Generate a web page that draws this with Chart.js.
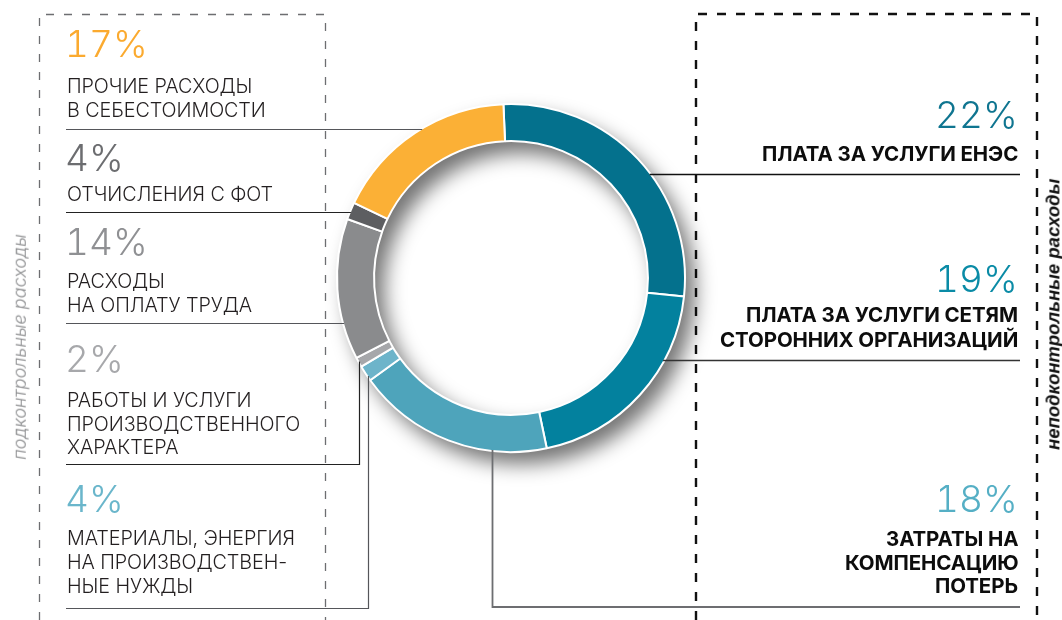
<!DOCTYPE html>
<html lang="ru">
<head>
<meta charset="utf-8">
<script src="https://cdn.jsdelivr.net/npm/chart.js@4.4.1/dist/chart.umd.min.js"></script>
<style>
  html, body { margin:0; padding:0; background:#fff; }
  body { width:1062px; height:620px; position:relative; overflow:hidden; }
  #c { position:absolute; left:0; top:0; }
  .t { position:absolute; white-space:nowrap; line-height:1; }
</style>
</head>
<body>
<canvas id="c" width="1062" height="620"></canvas>
<script>
// ---- data (clockwise from the top of the ring) ----
const categories = [
  'Плата за услуги ЕНЭС',
  'Плата за услуги сетям сторонних организаций',
  'Затраты на компенсацию потерь',
  'Материалы, энергия на производственные нужды',
  'Работы и услуги производственного характера',
  'Расходы на оплату труда',
  'Отчисления с ФОТ',
  'Прочие расходы в себестоимости'
];
const percentLabels = ['22%', '19%', '18%', '4%', '2%', '14%', '4%', '17%'];
// arc sizes as drawn in the picture (share of the full ring, %)
const sliceShares = [27.4, 20.0, 18.3, 1.5, 0.9, 13.1, 1.6, 17.2];
const sliceColors = ['#04718D', '#03819E', '#4EA4BB', '#6DB4CA', '#A6A7AA', '#8A8B8D', '#5D5E61', '#FBB036'];
const percentColors = ['#0F7590', '#0A8BA6', '#55AFC5', '#6AB6CB', '#A7A8AB', '#8F9093', '#6C6D70', '#FBAA2F'];
const labelLines = [
  ['ПЛАТА ЗА УСЛУГИ ЕНЭС'],
  ['ПЛАТА ЗА УСЛУГИ СЕТЯМ', 'СТОРОННИХ ОРГАНИЗАЦИЙ'],
  ['ЗАТРАТЫ НА', 'КОМПЕНСАЦИЮ', 'ПОТЕРЬ'],
  ['МАТЕРИАЛЫ, ЭНЕРГИЯ', 'НА ПРОИЗВОДСТВЕН-', 'НЫЕ НУЖДЫ'],
  ['РАБОТЫ И УСЛУГИ', 'ПРОИЗВОДСТВЕННОГО', 'ХАРАКТЕРА'],
  ['РАСХОДЫ', 'НА ОПЛАТУ ТРУДА'],
  ['ОТЧИСЛЕНИЯ С ФОТ'],
  ['ПРОЧИЕ РАСХОДЫ', 'В СЕБЕСТОИМОСТИ']
];
const groupTitles = ['подконтрольные расходы', 'неподконтрольные расходы'];

// ---- layout (positions only) ----
const pctFont = 'font-family:Inter,"Noto Sans",sans-serif;font-weight:300;font-size:37px;font-variant-numeric:tabular-nums;';
const leftFont = 'font-family:Inter,"Noto Sans",sans-serif;font-weight:350;font-size:19.8px;color:#231F20;letter-spacing:-0.1px;';
const rightFont = 'font-family:Inter,"Liberation Sans",sans-serif;font-weight:750;font-size:20.5px;color:#0d0d0d;letter-spacing:-0.1px;';
// index -> [side, pctBaseline, firstLineBaseline, lineStep]
const blocks = {
  7: ['L', 57, 93, 24],
  6: ['L', 171, 201, 24],
  5: ['L', 255, 288, 24],
  4: ['L', 372, 407, 23.5],
  3: ['L', 512, 545, 24],
  0: ['R', 128, 161, 25],
  1: ['R', 292, 322, 25],
  2: ['R', 512, 546, 23.5]
};

function place(text, x, baseline, style, align) {
  const d = document.createElement('div');
  d.className = 't';
  d.style.cssText += style;
  d.appendChild(document.createTextNode(text));
  const m = document.createElement('span');
  m.style.cssText = 'display:inline-block;width:0;height:0;vertical-align:baseline;';
  d.appendChild(m);
  document.body.appendChild(d);
  const b = m.offsetTop;
  d.style.top = (baseline - b) + 'px';
  d.style.left = (align === 'right' ? x - d.offsetWidth : x) + 'px';
  return d;
}

Object.keys(blocks).forEach(k => {
  const i = +k;
  const [side, pb, lb, step] = blocks[k];
  if (side === 'L') {
    place(percentLabels[i], 65, pb, pctFont + 'color:' + percentColors[i] + ';', 'left');
    labelLines[i].forEach((ln, j) => place(ln, 67, lb + j * step, leftFont, 'left'));
  } else {
    place(percentLabels[i], 1018, pb, pctFont + 'color:' + percentColors[i] + ';', 'right');
    labelLines[i].forEach((ln, j) => place(ln, 1018, lb + j * step, rightFont, 'right'));
  }
});

// rotated group titles
function vtitle(text, cx, cy, style) {
  const d = document.createElement('div');
  d.className = 't';
  d.style.cssText += style;
  d.textContent = text;
  document.body.appendChild(d);
  const w = d.offsetWidth, h = d.offsetHeight;
  d.style.left = (cx - w / 2) + 'px';
  d.style.top = (cy - h / 2) + 'px';
  d.style.transform = 'rotate(-90deg)';
}
vtitle(groupTitles[0], 19, 347, 'font-family:Inter,"Noto Sans",sans-serif;font-style:italic;font-weight:300;font-size:18px;color:#8A8B8D;');
vtitle(groupTitles[1], 1053, 314, 'font-family:"Liberation Sans",Arial,sans-serif;font-style:italic;font-weight:700;font-size:18.5px;color:#111;');

// ---- plugins ----
const decor = {
  id: 'decor',
  beforeDraw(chart) {
    const ctx = chart.ctx;
    ctx.save();
    // left dashed frame
    ctx.strokeStyle = '#6D6E71'; ctx.lineWidth = 1.3; ctx.setLineDash([8, 10]);
    ctx.beginPath(); ctx.moveTo(39.5, 620); ctx.lineTo(39.5, 14.5); ctx.lineTo(325.5, 14.5); ctx.lineTo(325.5, 620); ctx.stroke();
    // right dashed frame
    ctx.strokeStyle = '#111'; ctx.lineWidth = 2.4; ctx.setLineDash([9, 10]);
    ctx.beginPath(); ctx.moveTo(696, 620); ctx.lineTo(696, 14); ctx.lineTo(1037, 14); ctx.lineTo(1037, 620); ctx.stroke();
    ctx.restore();
  },
  beforeDatasetsDraw(chart) {
    const arc = chart.getDatasetMeta(0).data[0];
    if (!arc) return;
    const ctx = chart.ctx;
    ctx.save();
    // soft drop shadow of the ring, offset down-right
    ctx.filter = 'blur(10px)';
    ctx.fillStyle = 'rgba(0,0,0,0.55)';
    const ox = 10, oy = 12;
    ctx.beginPath();
    ctx.arc(arc.x + ox, arc.y + oy, arc.outerRadius, 0, Math.PI * 2, false);
    ctx.arc(arc.x + ox, arc.y + oy, arc.innerRadius, 0, Math.PI * 2, true);
    ctx.closePath();
    ctx.fill();
    ctx.restore();
    ctx.save();
    ctx.fillStyle = '#fff';
    ctx.beginPath();
    ctx.arc(arc.x, arc.y, arc.outerRadius, 0, Math.PI * 2, false);
    ctx.arc(arc.x, arc.y, arc.innerRadius, 0, Math.PI * 2, true);
    ctx.closePath();
    ctx.fill();
    ctx.restore();
  },
  afterDatasetsDraw(chart) {
    const arc = chart.getDatasetMeta(0).data[0];
    if (!arc) return;
    const cx = arc.x, cy = arc.y, R = arc.outerRadius - 1;
    const ctx = chart.ctx;
    const xOnCircle = (y, s) => cx + s * Math.sqrt(Math.max(R * R - (y - cy) * (y - cy), 0));
    const yOnCircle = (x, s) => cy + s * Math.sqrt(Math.max(R * R - (x - cx) * (x - cx), 0));
    const seg = (pts, color, w) => {
      ctx.save(); ctx.strokeStyle = color; ctx.lineWidth = w; ctx.beginPath();
      ctx.moveTo(pts[0][0], pts[0][1]);
      for (let k = 1; k < pts.length; k++) ctx.lineTo(pts[k][0], pts[k][1]);
      ctx.stroke(); ctx.restore();
    };
    // left leaders
    seg([[66, 129.5], [xOnCircle(129.5, -1), 129.5]], '#55565A', 1.2);
    seg([[66, 212.5], [xOnCircle(212.5, -1), 212.5]], '#222', 1.2);
    seg([[66, 323.5], [xOnCircle(323.5, -1), 323.5]], '#55565A', 1.2);
    seg([[66, 464.5], [359.5, 464.5], [359.5, yOnCircle(359.5, 1)]], '#222', 1.2);
    seg([[66, 608.5], [368.5, 608.5], [368.5, yOnCircle(368.5, 1)]], '#55565A', 1.2);
    // right leaders
    seg([[xOnCircle(174.5, 1), 174.5], [1020, 174.5]], '#111', 1.3);
    seg([[xOnCircle(360.5, 1), 360.5], [1020, 360.5]], '#333', 1.3);
    seg([[492.5, yOnCircle(492.5, 1)], [492.5, 607], [1020, 607]], '#6D6E71', 1.8);
  }
};

new Chart(document.getElementById('c'), {
  type: 'doughnut',
  data: {
    labels: categories,
    datasets: [{
      data: sliceShares,
      backgroundColor: sliceColors,
      borderColor: '#ffffff',
      borderWidth: 2,
      hoverOffset: 0
    }]
  },
  options: {
    responsive: false,
    animation: false,
    radius: 174,
    cutout: '78.7%',
    rotation: -2.5,
    layout: { padding: { left: 0, right: 40, top: 0, bottom: 64 } },
    plugins: { legend: { display: false }, tooltip: { enabled: false } }
  },
  plugins: [decor]
});
</script>
</body>
</html>
